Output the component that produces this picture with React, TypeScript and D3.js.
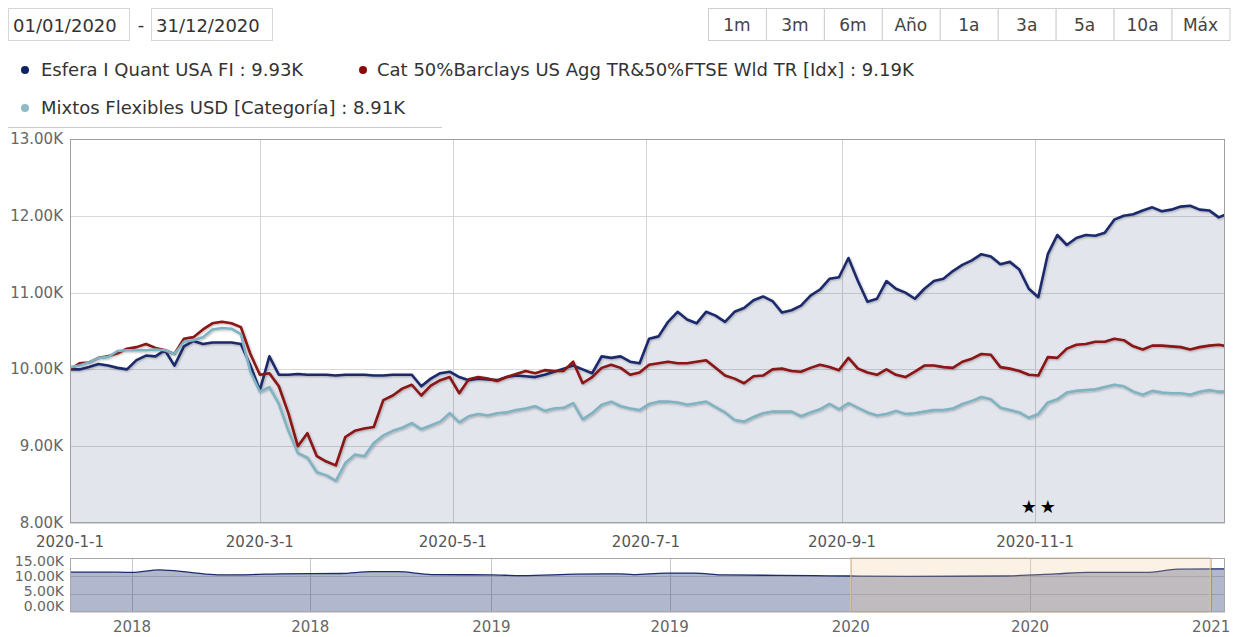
import React from 'react'
import * as d3 from 'd3'

const FONT = '"DejaVu Sans", Verdana, sans-serif'

// sampling dates for the main series (every 3 days through 2020)
const startDay = new Date(2020, 0, 1)
const days = d3.range(0, 367, 3).map(d => d3.timeDay.offset(startDay, d))

// values in thousands
const esfera = [
  10.0, 10.0, 10.03, 10.07, 10.05, 10.02, 10.0, 10.12, 10.18, 10.17,
  10.25, 10.05, 10.3, 10.37, 10.33, 10.35, 10.35, 10.35, 10.33, 10.05,
  9.73, 10.17, 9.93, 9.93, 9.94, 9.93, 9.93, 9.93, 9.92, 9.93,
  9.93, 9.93, 9.92, 9.92, 9.93, 9.93, 9.93, 9.78, 9.88, 9.95,
  9.97, 9.9, 9.86, 9.88, 9.87, 9.86, 9.9, 9.92, 9.91, 9.9,
  9.93, 9.97, 10.01, 10.05, 10.0, 9.95, 10.17, 10.15, 10.17, 10.1,
  10.08, 10.4, 10.43, 10.62, 10.75, 10.65, 10.6, 10.75, 10.7, 10.62,
  10.75, 10.8, 10.9, 10.95, 10.89, 10.74, 10.77, 10.83, 10.96, 11.04,
  11.18, 11.2, 11.45, 11.15, 10.88, 10.92, 11.15, 11.05, 11.0, 10.92,
  11.05, 11.15, 11.18, 11.28, 11.36, 11.42, 11.5, 11.47, 11.37, 11.4,
  11.3, 11.05, 10.94, 11.5, 11.75, 11.62, 11.71, 11.75, 11.74, 11.78,
  11.95, 12.0, 12.02, 12.07, 12.11, 12.06, 12.08, 12.12, 12.13, 12.08,
  12.07, 11.98, 12.03,
]

const cat = [
  10.0, 10.08, 10.09, 10.15, 10.17, 10.21, 10.27, 10.29, 10.33, 10.28,
  10.25, 10.2, 10.4, 10.42, 10.52, 10.6, 10.62, 10.6, 10.55, 10.2,
  9.93, 9.95, 9.78, 9.43, 9.0, 9.17, 8.87, 8.8, 8.75, 9.12,
  9.2, 9.23, 9.25, 9.6, 9.66, 9.75, 9.8, 9.66, 9.79, 9.86,
  9.9, 9.69, 9.87, 9.9, 9.88, 9.85, 9.9, 9.94, 9.98, 9.95,
  9.99, 9.98, 9.98, 10.1, 9.82, 9.9, 10.02, 10.06, 10.02, 9.93,
  9.96, 10.06, 10.08, 10.1, 10.08, 10.08, 10.1, 10.12, 10.02, 9.92,
  9.88, 9.82, 9.91, 9.92, 10.0, 10.01, 9.98, 9.97, 10.02, 10.06,
  10.03, 9.99, 10.15, 10.01, 9.96, 9.93, 10.0, 9.93, 9.9, 9.97,
  10.05, 10.05, 10.03, 10.02, 10.1, 10.14, 10.2, 10.19, 10.03, 10.01,
  9.98, 9.93, 9.92, 10.16, 10.15, 10.27, 10.32, 10.33, 10.36, 10.36,
  10.4, 10.38, 10.3, 10.26, 10.31, 10.31, 10.3, 10.29, 10.26, 10.29,
  10.31, 10.32, 10.3,
]

const mixtos = [
  10.03, 10.05, 10.09, 10.15, 10.16, 10.24, 10.25, 10.25, 10.25, 10.26,
  10.25, 10.2, 10.36, 10.38, 10.42, 10.52, 10.54, 10.53, 10.46, 9.97,
  9.71, 9.77, 9.55, 9.2, 8.91, 8.85, 8.66, 8.62, 8.55, 8.78,
  8.89, 8.87, 9.04, 9.14, 9.2, 9.24, 9.3, 9.22, 9.27, 9.32,
  9.43, 9.31, 9.39, 9.42, 9.4, 9.43, 9.44, 9.47, 9.49, 9.52,
  9.46, 9.49, 9.5, 9.56, 9.35, 9.43, 9.54, 9.58, 9.52, 9.49,
  9.47, 9.55, 9.58, 9.58, 9.57, 9.54, 9.56, 9.58, 9.51, 9.44,
  9.34, 9.32, 9.38, 9.43, 9.45, 9.45, 9.45, 9.39, 9.44, 9.48,
  9.55, 9.48, 9.56, 9.5, 9.44, 9.4, 9.42, 9.46, 9.42, 9.43,
  9.45, 9.47, 9.47, 9.49, 9.55, 9.59, 9.64, 9.61, 9.5, 9.47,
  9.44, 9.37, 9.42, 9.57, 9.61, 9.7, 9.72, 9.73, 9.74, 9.77,
  9.8, 9.78, 9.71, 9.67, 9.72, 9.7, 9.69, 9.69, 9.67, 9.71,
  9.73, 9.71, 9.71,
]

const seriesNames = [
  'Esfera I Quant USA FI : 9.93K',
  'Cat 50%Barclays US Agg TR&50%FTSE Wld TR [Idx] : 9.19K',
  'Mixtos Flexibles USD [Categoría] : 8.91K',
]
const seriesColors = ['#1b2b6c', '#8a1414', '#80b2c1']
const legendDots = ['#0f2466', '#8b0a0a', '#8fbac8']

// navigator (long-range) series
const navDates = [
  '2017-10-30', '2017-12-01', '2018-01-01', '2018-01-29', '2018-03-01', '2018-03-29',
  '2018-05-03', '2018-06-01', '2018-08-01', '2018-09-01', '2018-09-28', '2018-11-01',
  '2019-01-01', '2019-02-01', '2019-03-28', '2019-05-10', '2019-05-25', '2019-06-27',
  '2019-07-26', '2019-08-25', '2019-11-25', '2020-01-01', '2020-03-01', '2020-06-01',
  '2020-07-27', '2020-08-28', '2020-10-27', '2020-11-28', '2021-01-15',
]
const navValues = [
  11.1, 11.1, 11.0, 11.7, 11.0, 10.3,
  10.4, 10.6, 10.7, 11.2, 11.2, 10.4,
  10.3, 10.1, 10.5, 10.6, 10.4, 10.8,
  10.8, 10.3, 10.1, 10.0, 9.9, 10.0,
  10.6, 11.0, 11.0, 11.9, 12.0,
]

const yTicks = [8, 9, 10, 11, 12, 13]
const xTickMonths = [0, 2, 4, 6, 8, 10]
const navYTicks = [0, 5, 10, 15]
const navXTicks = ['2018-01-01', '2018-07-01', '2019-01-01', '2019-07-01', '2020-01-01', '2020-07-01', '2021-01-01']
const flagDates = ['2020-10-30', '2020-11-05']
const rangeButtons = ['1m', '3m', '6m', 'Año', '1a', '3a', '5a', '10a', 'Máx']
const fromDate = '01/01/2020'
const toDate = '31/12/2020'

const parse = d3.timeParse('%Y-%m-%d')

const App = () => {
  const W = 1234
  const H = 637
  const plot = { left: 70, right: 1225, top: 139, bottom: 523 }
  const nav = { left: 70, right: 1225, top: 558, bottom: 612 }

  const x = d3.scaleTime().domain([new Date(2020, 0, 1), new Date(2020, 11, 31)]).range([plot.left, plot.right])
  const y = d3.scaleLinear().domain([8, 13]).range([plot.bottom, plot.top])

  const xn = d3.scaleTime().domain([parse('2017-10-30')!, parse('2021-01-15')!]).range([nav.left, nav.right])
  const yn = d3.scaleLinear().domain([0, 15]).range([nav.bottom, nav.top])
  // labels of the small axis are squeezed inside the navigator box
  const ynLabel = d3.scaleLinear().domain([0, 15]).range([nav.bottom - 6, nav.top + 3])

  const makeLine = d3.line<number>().x((_, i) => x(days[i])).y(v => y(v))
  const makeArea = d3.area<number>().x((_, i) => x(days[i])).y0(plot.bottom).y1(v => y(v))

  const navPts = navDates.map((d, i) => ({ d: parse(d)!, v: navValues[i] }))
  const navLine = d3.line<{ d: Date; v: number }>().x(p => xn(p.d)).y(p => yn(p.v)).curve(d3.curveMonotoneX)
  const navArea = d3.area<{ d: Date; v: number }>().x(p => xn(p.d)).y0(nav.bottom).y1(p => yn(p.v)).curve(d3.curveMonotoneX)

  const buttons = d3.scaleBand<string>().domain(rangeButtons).range([708, 1229.5])
  const series = [esfera, cat, mixtos]
  const fmtK = (v: number) => `${v.toFixed(2)}K`

  const selX0 = xn(new Date(2020, 0, 1))
  const selX1 = xn(new Date(2020, 11, 31))

  const legendPos = [
    { dx: 25, tx: 41, y: 70 },
    { dx: 363, tx: 377, y: 70 },
    { dx: 25, tx: 41, y: 108 },
  ]

  return (
    <svg width={W} height={H} style={{ position: 'absolute', left: 0, top: 0, background: '#fff' }} fontFamily={FONT}>
      <defs>
        <clipPath id="plotClip">
          <rect x={plot.left} y={plot.top - 5} width={plot.right - plot.left} height={plot.bottom - plot.top + 5} />
        </clipPath>
        <clipPath id="navClip">
          <rect x={nav.left} y={nav.top} width={nav.right - nav.left} height={nav.bottom - nav.top} />
        </clipPath>
        <filter id="shadow" x="-5%" y="-10%" width="110%" height="130%">
          <feDropShadow dx="1" dy="1" stdDeviation="1" floodColor="#000" floodOpacity="0.28" />
        </filter>
      </defs>

      {/* date range inputs */}
      <rect x={8.5} y={8.5} width={121} height={32} fill="#fff" stroke="#d6d6d6" />
      <text x={13} y={32} fontSize={18} fill="#333">{fromDate}</text>
      <text x={141} y={31} fontSize={18} fill="#333" textAnchor="middle">-</text>
      <rect x={151.5} y={8.5} width={121} height={32} fill="#fff" stroke="#d6d6d6" />
      <text x={156} y={32} fontSize={18} fill="#333">{toDate}</text>

      {/* range buttons */}
      {rangeButtons.map(b => (
        <g key={b}>
          <rect x={buttons(b)! + 0.5} y={8.5} width={buttons.bandwidth()} height={32} fill="#fff" stroke="#cfcfcf" />
          <text x={buttons(b)! + buttons.bandwidth() / 2} y={31} fontSize={17} fill="#444" textAnchor="middle">{b}</text>
        </g>
      ))}

      {/* legend */}
      {seriesNames.map((n, i) => (
        <g key={n}>
          <circle cx={legendPos[i].dx} cy={legendPos[i].y} r={4} fill={legendDots[i]} />
          <text x={legendPos[i].tx} y={legendPos[i].y + 6} fontSize={18} fill="#333">{n}</text>
        </g>
      ))}
      <line x1={8} x2={442} y1={127.5} y2={127.5} stroke="#ccc" />

      {/* main plot */}
      <rect x={plot.left} y={plot.top} width={plot.right - plot.left} height={plot.bottom - plot.top} fill="#fff" />
      {yTicks.map(t => (
        <line key={t} x1={plot.left} x2={plot.right} y1={Math.round(y(t)) + 0.5} y2={Math.round(y(t)) + 0.5} stroke="#d9d9d9" />
      ))}
      {xTickMonths.map(m => {
        const px = Math.round(x(new Date(2020, m, 1))) + 0.5
        return <line key={m} x1={px} x2={px} y1={plot.top} y2={plot.bottom} stroke="#d4d4d4" />
      })}
      <path d={makeArea(esfera)!} fill="#1b2d6b" fillOpacity={0.12} clipPath="url(#plotClip)" />
      <g clipPath="url(#plotClip)" filter="url(#shadow)">
        {series.map((s, i) => (
          <path key={i} d={makeLine(s)!} fill="none" stroke={seriesColors[i]} strokeWidth={2.6} strokeLinejoin="round" />
        ))}
      </g>
      <rect x={plot.left + 0.5} y={plot.top + 0.5} width={plot.right - plot.left - 1} height={plot.bottom - plot.top - 1} fill="none" stroke="#a0a0a0" />

      {yTicks.map(t => (
        <text key={t} x={63} y={y(t) + 5} fontSize={15} fill="#666" textAnchor="end">{fmtK(t)}</text>
      ))}
      {xTickMonths.map(m => (
        <text key={m} x={x(new Date(2020, m, 1))} y={547} fontSize={15} fill="#555" textAnchor="middle">{`2020-${m + 1}-1`}</text>
      ))}
      {flagDates.map(d => (
        <text key={d} x={x(parse(d)!)} y={513} fontSize={18} fill="#000" textAnchor="middle">★</text>
      ))}

      {/* navigator */}
      <rect x={nav.left} y={nav.top} width={nav.right - nav.left} height={nav.bottom - nav.top} fill="#fff" />
      {navYTicks.map(t => (
        <line key={t} x1={nav.left} x2={nav.right} y1={Math.round(yn(t)) + 0.5} y2={Math.round(yn(t)) + 0.5} stroke="#d6d6d6" />
      ))}
      {navXTicks.map(d => {
        const px = Math.round(xn(parse(d)!)) + 0.5
        return <line key={d} x1={px} x2={px} y1={nav.top} y2={nav.bottom} stroke="#c8c8c8" />
      })}
      <g clipPath="url(#navClip)">
        <path d={navArea(navPts)!} fill="#1b2d6b" fillOpacity={0.34} />
        <path d={navLine(navPts)!} fill="none" stroke="#1b2b6c" strokeWidth={1.3} />
      </g>
      <rect x={selX0} y={nav.top} width={selX1 - selX0} height={nav.bottom - nav.top} fill="#f0c896" fillOpacity={0.25} stroke="#e6c393" />
      <rect x={nav.left + 0.5} y={nav.top + 0.5} width={nav.right - nav.left - 1} height={nav.bottom - nav.top - 1} fill="none" stroke="#a8a8a8" />
      {navYTicks.map(t => (
        <text key={t} x={64} y={ynLabel(t) + 5} fontSize={14} fill="#666" textAnchor="end">{fmtK(t)}</text>
      ))}
      {navXTicks.map(d => (
        <text key={d} x={xn(parse(d)!)} y={632} fontSize={15} fill="#666" textAnchor="middle">{d3.timeFormat('%Y')(parse(d)!)}</text>
      ))}
    </svg>
  )
}

export default App
